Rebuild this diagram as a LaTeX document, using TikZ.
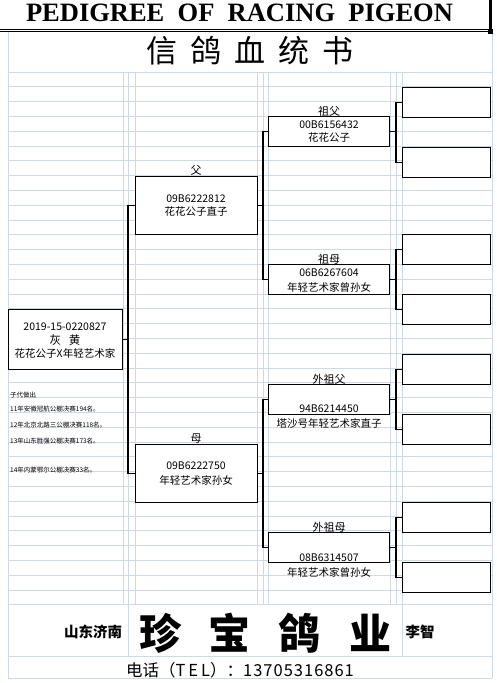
\documentclass[tikz,border=0pt]{standalone}
\usepackage{fontspec}
\setmainfont{Liberation Serif}
\newfontfamily\cjk{Noto Sans CJK SC}
\definecolor{gridc}{RGB}{208,215,229}
\begin{document}
\begin{tikzpicture}[x=1pt,y=-1pt,
  gridline/.style={draw=gridc,line width=0.9pt},
  pbox/.style={draw=black,line width=1.2pt,anchor=north west,inner sep=0pt,fill=white},
  conn/.style={draw=black,line width=1.2pt},
  txt/.style={font=\cjk\fontsize{10.5}{11}\selectfont,inner sep=0pt},
  small/.style={font=\cjk\fontsize{6.5}{7}\selectfont,inner sep=0pt,anchor=west},
  lbl/.style={font=\cjk\fontsize{11}{11}\selectfont,inner sep=0pt}]
\useasboundingbox (0,0) rectangle (497,683);
\fill[white] (0,0) rectangle (497,683);
% grid
\foreach \k in {0,...,36} \draw[gridline] (8,72+14.8*\k) -- (492,72+14.8*\k);
\draw[gridline] (8,656) -- (492,656);
\draw[gridline] (8,678) -- (492,678);
\draw[gridline] (8,31) -- (8,678);
\draw[gridline] (492,31) -- (492,678);
\foreach \x in {123,128,135,257,263,268,390,396,402} \draw[gridline] (\x,72) -- (\x,605);
\foreach \x in {128,402} \draw[gridline] (\x,605) -- (\x,656);
% title
\node[inner sep=0pt,font=\bfseries\fontsize{26.5}{27}\selectfont] (title) at (239.5,13) {PEDIGREE\ \ OF\ \ RACING\ \ PIGEON};
\draw[line width=0.8pt] (0,29.3) -- (490,29.3);
\draw[line width=0.8pt] (0,31.6) -- (490,31.6);
\draw[line width=2.6pt] (490.5,0) -- (490.5,31);
\fill[black] (488,28.5) rectangle (493,33.5);
\node[inner sep=0pt,font=\cjk\fontsize{31}{32}\selectfont] (ctitle) at (250,51) {信\hspace{13pt}鸽\hspace{13pt}血\hspace{13pt}统\hspace{13pt}书};
% boxes
\node[pbox,minimum width=114,minimum height=60] (p) at (8,309) {};
\node[pbox,minimum width=122,minimum height=58] (f) at (135,176) {};
\node[pbox,minimum width=122,minimum height=58] (m) at (135,444) {};
\node[pbox,minimum width=121,minimum height=30] (g1) at (268,116) {};
\node[pbox,minimum width=121,minimum height=30] (g2) at (268,264) {};
\node[pbox,minimum width=121,minimum height=30] (g3) at (268,384) {};
\node[pbox,minimum width=121,minimum height=30] (g4) at (268,532) {};
\node[pbox,minimum width=88,minimum height=29.5] (a1) at (402,87) {};
\node[pbox,minimum width=88,minimum height=29.5] (a2) at (402,147) {};
\node[pbox,minimum width=88,minimum height=29.5] (a3) at (402,234) {};
\node[pbox,minimum width=88,minimum height=29.5] (a4) at (402,294) {};
\node[pbox,minimum width=88,minimum height=29.5] (a5) at (402,354) {};
\node[pbox,minimum width=88,minimum height=29.5] (a6) at (402,414) {};
\node[pbox,minimum width=88,minimum height=29.5] (a7) at (402,502) {};
\node[pbox,minimum width=88,minimum height=29.5] (a8) at (402,562) {};
% connectors
\draw[conn] (f.west) -- ++(-7,0) coordinate (j0) |- (m.west);
\draw[conn] (p.east) -- (p.east -| j0);
\draw[conn] (g1.west) -- ++(-5,0) coordinate (jf) |- (g2.west);
\draw[conn] (f.east) -- (f.east -| jf);
\draw[conn] (g3.west) -- ++(-5,0) coordinate (jm) |- (g4.west);
\draw[conn] (m.east) -- (m.east -| jm);
\draw[conn] (a1.west) -- ++(-6,0) coordinate (j1) |- (a2.west);
\draw[conn] (g1.east) -- (g1.east -| j1);
\draw[conn] (a3.west) -- ++(-6,0) coordinate (j2) |- (a4.west);
\draw[conn] (g2.east) -- (g2.east -| j2);
\draw[conn] (a5.west) -- ++(-6,0) coordinate (j3) |- (a6.west);
\draw[conn] (g3.east) -- (g3.east -| j3);
\draw[conn] (a7.west) -- ++(-6,0) coordinate (j4) |- (a8.west);
\draw[conn] (g4.east) -- (g4.east -| j4);
% texts
\node[txt] (p1) at (65,327) {2019-15-0220827};
\node[txt,font=\cjk\fontsize{11.5}{12}\selectfont] (p2) at (65,340) {灰\hspace{8pt}黄};
\node[txt] (p3) at (65,353) {花花公子X年轻艺术家};
\node[lbl] (fl) at (196,170) {父};
\node[txt] (f1) at (196,199) {09B6222812};
\node[txt] (f2) at (196,212) {花花公子直子};
\node[lbl] (ml) at (196,439) {母};
\node[txt] (m1) at (196,466) {09B6222750};
\node[txt] (m2) at (196,480) {年轻艺术家孙女};
\node[lbl] (g1l) at (329,111) {祖父};
\node[txt] (g1a) at (329,125) {00B6156432};
\node[txt] (g1b) at (329,138) {花花公子};
\node[lbl] (g2l) at (329,259) {祖母};
\node[txt] (g2a) at (329,273) {06B6267604};
\node[txt] (g2b) at (329,287) {年轻艺术家曾孙女};
\node[lbl] (g3l) at (329,379) {外祖父};
\node[txt] (g3a) at (329,409) {94B6214450};
\node[txt] (g3b) at (329,424) {塔沙号年轻艺术家直子};
\node[lbl] (g4l) at (329,527) {外祖母};
\node[txt] (g4a) at (329,558) {08B6314507};
\node[txt] (g4b) at (329,572) {年轻艺术家曾孙女};
% achievements
\node[small] (s0) at (10,395) {子代做出};
\node[small] (s1) at (10,409) {11年安徽冠航公棚决赛194名。};
\node[small] (s2) at (10,425) {12年北京北路三公棚决赛118名。};
\node[small] (s3) at (10,441) {13年山东胜强公棚决赛173名。};
\node[small] (s4) at (10,470) {14年内蒙鄂尔公棚决赛33名。};
% footer
\node[inner sep=0pt,font=\cjk\bfseries\fontsize{14.5}{15}\selectfont] (city) at (93,632) {山东济南};
\node[inner sep=0pt,font=\cjk\bfseries\fontsize{42}{42}\selectfont] (brand) at (265,633) {珍\hspace{28pt}宝\hspace{28pt}鸽\hspace{28pt}业};
\node[inner sep=0pt,font=\cjk\bfseries\fontsize{14.5}{15}\selectfont] (name) at (420,632) {李智};
\node[inner sep=0pt,font=\cjk\fontsize{16.5}{17}\selectfont] (tel) at (240,670) {电话（T\hspace{3pt}E\hspace{3pt}L）：1\hspace{1pt}3\hspace{1pt}7\hspace{1pt}0\hspace{1pt}5\hspace{1pt}3\hspace{1pt}1\hspace{1pt}6\hspace{1pt}8\hspace{1pt}6\hspace{1pt}1};
\end{tikzpicture}
\end{document}
